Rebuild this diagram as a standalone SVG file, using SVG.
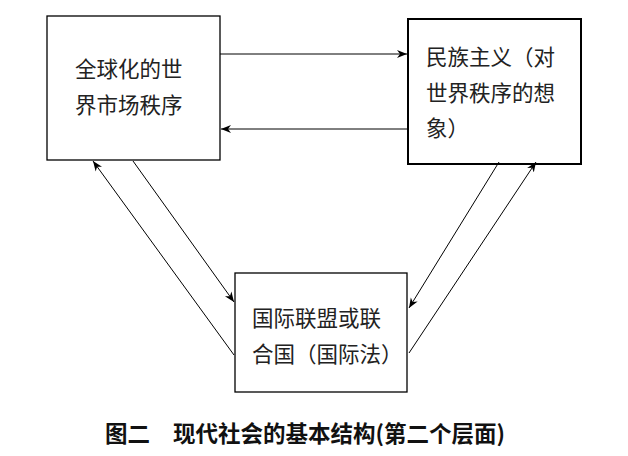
<svg xmlns="http://www.w3.org/2000/svg" width="628" height="456" viewBox="0 0 628 456">
<style>
.box{fill:#fff;stroke:#000;stroke-width:1.3}
.t{font-family:"Noto Sans CJK SC","Liberation Sans",sans-serif;font-size:21.5px;fill:#222}
.c{stroke:#000;stroke-width:1;fill:none;marker-end:url(#a)}
.cap{font-family:"Noto Sans CJK SC",sans-serif;font-size:22.5px;font-weight:bold;fill:#111}
</style>
<defs><marker id="a" viewBox="0 0 10 10" refX="10" refY="5" markerWidth="10" markerHeight="10" markerUnits="userSpaceOnUse" orient="auto"><path d="M0,1 L10,5 L0,9 L3,5 Z" fill="#000"/></marker></defs>
<rect width="628" height="456" fill="#fff"/>
<g id="n1"><rect class="box" x="47" y="16" width="173" height="144"/>
<text class="t" x="75" y="77">全球化的世</text><text class="t" x="75" y="113">界市场秩序</text></g>
<g id="n2"><rect class="box" x="408" y="19" width="173" height="145" style="stroke-width:2"/>
<text class="t" x="426" y="65">民族主义（对</text><text class="t" x="426" y="101">世界秩序的想</text><text class="t" x="426" y="136">象）</text></g>
<g id="n3"><rect class="box" x="235" y="273" width="172" height="119"/>
<text class="t" x="252" y="326">国际联盟或联</text><text class="t" x="252" y="362">合国（国际法）</text></g>
<g id="connectors">
<line class="c" x1="220" y1="54" x2="407" y2="54"/>
<line class="c" x1="408" y1="129" x2="221" y2="129"/>
<line class="c" x1="234" y1="355" x2="93" y2="161"/>
<line class="c" x1="133" y1="161" x2="234" y2="302"/>
<line class="c" x1="499" y1="162" x2="409" y2="308"/>
<line class="c" x1="409" y1="353" x2="536" y2="162"/>
</g>
<text class="cap" x="105" y="442">图二</text>
<text class="cap" x="173" y="442">现代社会的基本结构(第二个层面)</text>
</svg>
